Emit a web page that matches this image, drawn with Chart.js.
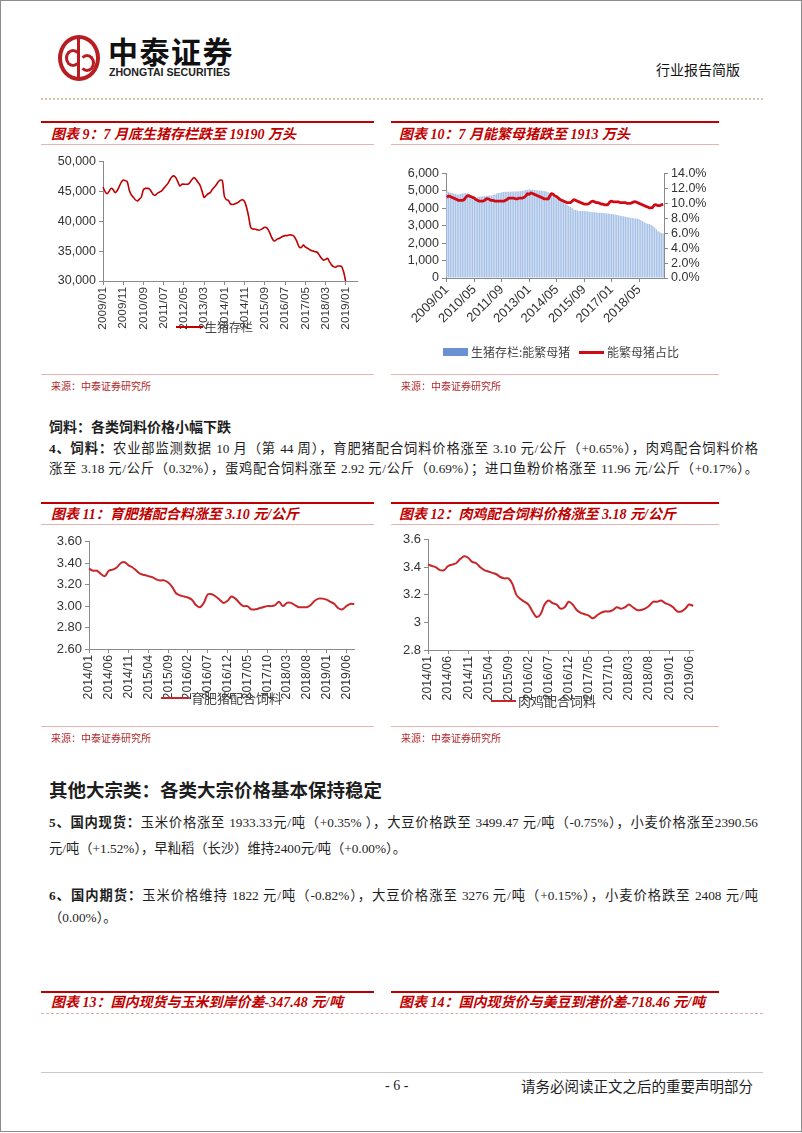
<!DOCTYPE html>
<html>
<head>
<meta charset="utf-8">
<script src="https://cdn.jsdelivr.net/npm/chart.js@4.4.0/dist/chart.umd.min.js"></script>
<style>
  body { margin: 0; background: #fff; }
  #page { position: relative; width: 800px; height: 1130px; border: 1px solid #8c8c8c; overflow: hidden;
          font-family: "Liberation Serif", "Noto Sans CJK SC", serif; color: #1e1e1e; }
  .abs { position: absolute; }
  .redbar { position: absolute; height: 2px; background: #c00000; }
  .thin { position: absolute; height: 1px; background: #e7b4b4; }
  .title { position: absolute; color: #c00000; font-weight: bold; font-style: italic; font-size: 14px; line-height: 16px; white-space: nowrap; }
  .src { position: absolute; color: #b0282c; font-size: 10px; line-height: 12px; font-family: "Noto Sans CJK SC", sans-serif; }
  .legend { position: absolute; font-family: "Noto Sans CJK SC", sans-serif; font-size: 12px; line-height: 14px; color: #444; white-space: nowrap; }
  .lline { position: absolute; height: 2px; background: #c8262b; }
  .body { position: absolute; left: 48px; width: 709px; font-size: 13.3px; line-height: 20px; white-space: nowrap; }
  .just { text-align: justify; text-align-last: justify; }
  canvas { position: absolute; }
</style>
</head>
<body>
<div id="page">

  <!-- header -->
  <div class="abs" style="left:57px;top:34px;width:34px;height:38px;border:4px solid #b81d22;border-radius:50%;"></div>
  <div class="abs" style="left:76px;top:38px;width:3px;height:38px;background:#b81d22;"></div>
  <div class="abs" style="left:64px;top:48px;width:10px;height:12px;border:3px solid #b81d22;border-radius:50%;border-right-color:transparent;"></div>
  <div class="abs" style="left:78px;top:53px;width:10px;height:12px;border:3px solid #b81d22;border-radius:50%;border-left-color:transparent;"></div>
  <div class="abs" style="left:107px;top:31px;font-family:'Noto Sans CJK SC',sans-serif;font-weight:bold;font-size:30px;line-height:36px;letter-spacing:1.5px;color:#111;">中泰证券</div>
  <div class="abs" style="left:108px;top:65px;font-family:'Liberation Sans',sans-serif;font-weight:bold;font-size:10.6px;line-height:12px;color:#222;">ZHONGTAI SECURITIES</div>
  <div class="abs" style="left:655px;top:59px;font-family:'Noto Sans CJK SC',sans-serif;font-size:14px;line-height:18px;color:#111;">行业报告简版</div>
  <div class="abs" style="left:40px;top:97px;width:722px;border-top:2px dotted #dcc6aa;"></div>

  <!-- chart 9 block -->
  <div class="redbar" style="left:40px;top:120px;width:333px;"></div>
  <div class="title" style="left:50px;top:126px;">图表 9：7 月底生猪存栏跌至 19190 万头</div>
  <div class="thin" style="left:40px;top:143px;width:333px;"></div>
  <canvas id="c9" width="325" height="190" style="left:48px;top:150px;"></canvas>
  <div class="lline" style="left:175px;top:325px;width:27px;background:#c00000;"></div>
  <div class="legend" style="left:204px;top:319px;">生猪存栏</div>
  <div class="thin" style="left:40px;top:373px;width:333px;"></div>
  <div class="src" style="left:50px;top:379px;">来源：中泰证券研究所</div>

  <!-- chart 10 block -->
  <div class="redbar" style="left:390px;top:120px;width:328px;"></div>
  <div class="title" style="left:398px;top:126px;">图表 10：7 月能繁母猪跌至 1913 万头</div>
  <div class="thin" style="left:390px;top:143px;width:328px;"></div>
  <canvas id="c10" width="320" height="165" style="left:398px;top:162px;"></canvas>
  <div class="abs" style="left:442px;top:347px;width:25px;height:8px;background:#6a92d2;"></div>
  <div class="legend" style="left:470px;top:344px;">生猪存栏:能繁母猪</div>
  <div class="lline" style="left:578px;top:350px;width:25px;height:3px;background:#d00a14;"></div>
  <div class="legend" style="left:606px;top:344px;">能繁母猪占比</div>
  <div class="thin" style="left:390px;top:373px;width:328px;"></div>
  <div class="src" style="left:400px;top:379px;">来源：中泰证券研究所</div>

  <!-- feed text -->
  <div class="abs" style="left:48px;top:415px;font-family:'Noto Sans CJK SC',sans-serif;font-weight:bold;font-size:14px;line-height:20px;">饲料：各类饲料价格小幅下跌</div>
  <div class="body just" style="top:438px;"><b>4、饲料：</b>农业部监测数据 10 月（第 44 周），育肥猪配合饲料价格涨至 3.10 元/公斤（+0.65%），肉鸡配合饲料价格</div>
  <div class="body just" style="top:458px;">涨至 3.18 元/公斤（0.32%），蛋鸡配合饲料涨至 2.92 元/公斤（0.69%）；进口鱼粉价格涨至 11.96 元/公斤（+0.17%）。</div>

  <!-- chart 11 block -->
  <div class="redbar" style="left:40px;top:501px;width:333px;"></div>
  <div class="title" style="left:50px;top:506px;">图表 11：育肥猪配合料涨至 3.10 元/公斤</div>
  <div class="thin" style="left:40px;top:523px;width:333px;"></div>
  <canvas id="c11" width="322" height="170" style="left:48px;top:530px;"></canvas>
  <div class="lline" style="left:160px;top:696px;width:28px;"></div>
  <div class="legend" style="left:190px;top:690px;font-size:13px;">育肥猪配合饲料</div>
  <div class="thin" style="left:40px;top:725px;width:333px;"></div>
  <div class="src" style="left:50px;top:731px;">来源：中泰证券研究所</div>

  <!-- chart 12 block -->
  <div class="redbar" style="left:390px;top:501px;width:328px;"></div>
  <div class="title" style="left:398px;top:506px;">图表 12：肉鸡配合饲料价格涨至 3.18 元/公斤</div>
  <div class="thin" style="left:390px;top:523px;width:328px;"></div>
  <canvas id="c12" width="311" height="173" style="left:398px;top:528px;"></canvas>
  <div class="lline" style="left:490px;top:699px;width:25px;"></div>
  <div class="legend" style="left:517px;top:693px;font-size:13px;">肉鸡配合饲料</div>
  <div class="thin" style="left:390px;top:725px;width:328px;"></div>
  <div class="src" style="left:400px;top:731px;">来源：中泰证券研究所</div>

  <!-- commodities text -->
  <div class="abs" style="left:48px;top:776px;font-family:'Noto Sans CJK SC',sans-serif;font-weight:bold;font-size:18.5px;line-height:24px;">其他大宗类：各类大宗价格基本保持稳定</div>
  <div class="body just" style="top:812px;"><b>5、国内现货：</b>玉米价格涨至 1933.33元/吨（+0.35% ），大豆价格跌至 3499.47 元/吨（-0.75%），小麦价格涨至2390.56</div>
  <div class="body" style="top:838px;">元/吨（+1.52%），早籼稻（长沙）维持2400元/吨（+0.00%）。</div>
  <div class="body just" style="top:885px;"><b>6、国内期货：</b>玉米价格维持 1822 元/吨（-0.82%），大豆价格涨至 3276 元/吨（+0.15%），小麦价格跌至 2408 元/吨</div>
  <div class="body" style="top:907px;">（0.00%）。</div>

  <!-- chart 13 / 14 headers -->
  <div class="redbar" style="left:40px;top:990px;width:333px;"></div>
  <div class="title" style="left:50px;top:994px;">图表 13：国内现货与玉米到岸价差-347.48 元/吨</div>
  <div class="redbar" style="left:390px;top:990px;width:328px;"></div>
  <div class="title" style="left:398px;top:994px;">图表 14：国内现货价与美豆到港价差-718.46 元/吨</div>
  <div class="abs" style="left:40px;top:1012px;width:722px;border-top:1px dashed #d9b0b0;"></div>

  <!-- footer -->
  <div class="abs" style="left:40px;top:1071px;width:722px;height:1px;background:#c9c9c9;"></div>
  <div class="abs" style="left:384px;top:1076px;font-size:14px;line-height:18px;">- 6 -</div>
  <div class="abs" style="left:520px;top:1076px;font-family:'Noto Sans CJK SC',sans-serif;font-size:14.5px;line-height:18px;">请务必阅读正文之后的重要声明部分</div>
</div>

<script>
  // categories
  const pigLabels = [];
  for (let y = 2009; y <= 2019; y++) {
    for (let m = 1; m <= 12; m++) {
      if (y === 2019 && m > 7) break;
      pigLabels.push(y + "/" + String(m).padStart(2, "0"));
    }
  }
  const feedLabels = [];
  for (let y = 2014; y <= 2019; y++) {
    for (let m = 1; m <= 12; m++) {
      if (y === 2019 && m > 8) break;
      feedLabels.push(y + "/" + String(m).padStart(2, "0"));
    }
  }

  // 图表9 生猪存栏 (万头), monthly 2009/01 - 2019/07
  const hogStock = [
    45700, 45000, 44600, 45000, 45500, 45300, 44800, 45100, 45800, 46500,
    46900, 46800, 46600, 45200, 44400, 44000, 43600, 43400, 43700, 44100,
    45300, 45500, 45500, 45400, 44900, 44400, 44400, 44700, 44900, 45100,
    45500, 45900, 46300, 46900, 47400, 47600, 47300, 46600, 45900, 46200,
    46200, 46200, 46200, 46500, 47000, 47300, 47000, 46500, 46000, 45000,
    44000, 44300, 44600, 44800, 45300, 45700, 46100, 46600, 46900, 46800,
    44200, 43600, 43500, 42900, 42800, 42900, 43000, 43200, 43500, 43600,
    43300, 42300, 40800, 39000, 38700, 38700, 38600, 38500, 38600, 38800,
    39000, 38900, 38400, 37600, 36900, 36700, 37000, 37100, 37300, 37500,
    37600, 37600, 37700, 37700, 37600, 37200, 36500, 35700, 35600, 36000,
    35700, 35500, 35300, 35100, 35000, 34900, 34800, 34300, 33800, 33500,
    33600, 33800, 33200, 32700, 32400, 32300, 32500, 32500, 32400, 31500,
    29900, null, null, null, null, null, null
  ];

  // 图表10 能繁母猪 (万头) and share (%)
  const sowStock = [
    4980, 4950, 4900, 4880, 4850, 4820, 4800, 4800, 4820, 4850, 4870, 4880,
    4860, 4820, 4700, 4650, 4630, 4640, 4650, 4660, 4680, 4700, 4700, 4710,
    4720, 4730, 4740, 4760, 4800, 4850, 4880, 4900, 4920, 4940, 4950, 4950,
    4950, 4950, 4960, 4960, 4970, 4970, 4980, 4980, 5000, 5020, 5050, 5070,
    5080, 5070, 5060, 5050, 5040, 5030, 5020, 5010, 5000, 4980, 4960, 4930,
    4870, 4780, 4700, 4640, 4560, 4500, 4440, 4380, 4320, 4260, 4200, 4140,
    4080, 4000, 3940, 3900, 3870, 3850, 3850, 3850, 3840, 3830, 3820, 3800,
    3790, 3780, 3770, 3760, 3750, 3750, 3740, 3730, 3720, 3710, 3700, 3690,
    3680, 3660, 3640, 3620, 3600, 3580, 3560, 3540, 3520, 3500, 3480, 3460,
    3440, 3420, 3410, 3400, 3380, 3320, 3260, 3200, 3150, 3120, 3100, 3050,
    2980, 2900, 2800, 2700, 2620, 2580, 2560
  ];
  const sowShare = [
    10.8, 11.0, 10.9, 10.8, 10.7, 10.6, 10.5, 10.4, 10.4, 10.4, 10.5, 10.8,
    11.0, 11.0, 10.9, 10.8, 10.7, 10.5, 10.4, 10.3, 10.3, 10.3, 10.4, 10.6,
    10.6, 10.5, 10.4, 10.4, 10.3, 10.3, 10.3, 10.3, 10.3, 10.3, 10.4, 10.5,
    10.7, 10.7, 10.7, 10.7, 10.6, 10.6, 10.7, 10.7, 10.7, 10.8, 11.0, 11.3,
    11.2, 11.4, 11.3, 11.2, 11.1, 11.0, 10.9, 10.8, 10.7, 10.6, 10.6, 10.6,
    11.0, 11.3, 11.2, 11.0, 10.9, 10.7, 10.5, 10.4, 10.3, 10.2, 10.1, 10.1,
    10.1, 10.3, 10.5, 10.4, 10.3, 10.2, 10.1, 10.0, 9.9, 9.9, 9.9, 10.0,
    10.2, 10.3, 10.2, 10.1, 10.1, 10.0, 9.9, 9.9, 9.8, 9.8, 9.9, 10.2,
    10.3, 10.2, 10.2, 10.2, 10.2, 10.1, 10.1, 10.1, 10.1, 10.0, 10.0, 10.0,
    10.1, 10.2, 10.2, 10.1, 10.0, 9.9, 9.8, 9.7, 9.6, 9.5, 9.4, 9.4,
    9.5, 9.8, 9.8, 9.7, 9.7, 9.8, 9.9
  ];

  // 图表11 育肥猪配合饲料 (元/公斤), 2014/01 - 2019/08
  const hogFeed = [
    3.35, 3.33, 3.33, 3.30, 3.28, 3.33, 3.34, 3.36, 3.40, 3.41,
    3.38, 3.36, 3.33, 3.30, 3.29, 3.28, 3.27, 3.25, 3.24, 3.24,
    3.22, 3.18, 3.12, 3.10, 3.09, 3.08, 3.06, 3.01, 2.99, 3.03,
    3.11, 3.11, 3.09, 3.06, 3.03, 3.05, 3.09, 3.07, 3.03, 3.00,
    3.00, 2.97, 2.97, 2.98, 2.99, 3.00, 3.00, 3.01, 3.04, 3.00,
    3.03, 3.03, 3.01, 2.99, 2.99, 2.99, 3.01, 3.05, 3.07, 3.07,
    3.06, 3.04, 3.02, 2.98, 2.97, 3.00, 3.02, 3.02
  ];

  // 图表12 肉鸡配合饲料 (元/公斤), 2014/01 - 2019/07
  const broilerFeed = [
    3.42, 3.41, 3.40, 3.38, 3.38, 3.41, 3.42, 3.43, 3.46, 3.48,
    3.47, 3.44, 3.43, 3.40, 3.38, 3.37, 3.36, 3.35, 3.33, 3.32,
    3.32, 3.28, 3.20, 3.17, 3.15, 3.13, 3.08, 3.04, 3.06, 3.13,
    3.16, 3.14, 3.13, 3.10, 3.11, 3.15, 3.13, 3.09, 3.07, 3.06,
    3.05, 3.03, 3.05, 3.07, 3.08, 3.08, 3.09, 3.11, 3.10, 3.11,
    3.13, 3.11, 3.09, 3.09, 3.10, 3.12, 3.15, 3.15, 3.16, 3.14,
    3.13, 3.11, 3.08, 3.08, 3.10, 3.13, 3.12
  ];

  Chart.defaults.font.family = '"Liberation Sans", Arial, sans-serif';
  Chart.defaults.color = "#333";
  Chart.defaults.animation = false;

  const axisGray = "#8a8a8a";
  const noPlugins = { legend: { display: false }, tooltip: { enabled: false } };

  // 图表9
  new Chart(document.getElementById("c9"), {
    type: "line",
    data: {
      labels: pigLabels,
      datasets: [{ data: hogStock, borderColor: "#c00000", borderWidth: 1.6, pointRadius: 0, tension: 0.3 }],
    },
    options: {
      responsive: false,
      layout: { padding: { top: 9, right: 8 } },
      plugins: noPlugins,
      scales: {
        x: {
          ticks: { autoSkip: false, minRotation: 90, maxRotation: 90, padding: 2, font: { size: 11.8 },
                   callback: (v, i) => (i % 10 === 0 ? pigLabels[i] : "") },
          grid: { drawOnChartArea: false, tickLength: 4, color: (c) => (c.index % 10 === 0 ? axisGray : "rgba(0,0,0,0)") },
          border: { color: axisGray },
          afterFit: (s) => { s.height = 60; },
        },
        y: {
          min: 30000, max: 50000,
          ticks: { stepSize: 5000, autoSkip: false, font: { size: 12.5 } },
          grid: { drawOnChartArea: false, tickLength: 4, color: axisGray },
          border: { color: axisGray },
          afterFit: (s) => { s.width = 54; },
        },
      },
    },
  });

  // 图表10
  new Chart(document.getElementById("c10"), {
    type: "bar",
    data: {
      labels: pigLabels,
      datasets: [
        { type: "line", data: sowShare, yAxisID: "y1", borderColor: "#d00a14", borderWidth: 2.8, pointRadius: 0, tension: 0.3, order: 0 },
        { data: sowStock, yAxisID: "y", backgroundColor: "#a8c2e7", barPercentage: 0.8, categoryPercentage: 1.0, order: 1 },
      ],
    },
    options: {
      responsive: false,
      layout: { padding: { top: 8 } },
      plugins: noPlugins,
      scales: {
        x: {
          ticks: { autoSkip: false, minRotation: 45, maxRotation: 45, padding: 0, font: { size: 13 },
                   callback: (v, i) => (i % 16 === 0 ? pigLabels[i] : "") },
          grid: { drawOnChartArea: false, offset: false, tickLength: 4, color: (c) => (c.index % 16 === 0 ? axisGray : "rgba(0,0,0,0)") },
          border: { color: axisGray },
          afterFit: (s) => { s.height = 50; },
        },
        y: {
          min: 0, max: 6000,
          ticks: { stepSize: 1000, autoSkip: false, font: { size: 12.5 } },
          grid: { drawOnChartArea: false, tickLength: 4, color: axisGray },
          border: { color: axisGray },
          afterFit: (s) => { s.width = 47; },
        },
        y1: {
          position: "right",
          min: 0, max: 14,
          ticks: { stepSize: 2, autoSkip: false, font: { size: 12.5 }, callback: (v) => v.toFixed(1) + "%" },
          grid: { drawOnChartArea: false, tickLength: 4, color: axisGray },
          border: { color: axisGray },
          afterFit: (s) => { s.width = 55; },
        },
      },
    },
  });

  // 图表11
  new Chart(document.getElementById("c11"), {
    type: "line",
    data: {
      labels: feedLabels,
      datasets: [{ data: hogFeed, borderColor: "#c8262b", borderWidth: 2, pointRadius: 0, tension: 0.35 }],
    },
    options: {
      responsive: false,
      layout: { padding: { top: 7, right: 10 } },
      plugins: noPlugins,
      scales: {
        x: {
          ticks: { autoSkip: false, minRotation: 90, maxRotation: 90, padding: 2, font: { size: 12.3 },
                   callback: (v, i) => (i % 5 === 0 ? feedLabels[i] : "") },
          grid: { drawOnChartArea: false, tickLength: 4, color: (c) => (c.index % 5 === 0 ? axisGray : "rgba(0,0,0,0)") },
          border: { color: axisGray },
          afterFit: (s) => { s.height = 52; },
        },
        y: {
          min: 2.6, max: 3.6,
          ticks: { stepSize: 0.2, autoSkip: false, font: { size: 13 }, callback: (v) => v.toFixed(2) },
          grid: { drawOnChartArea: false, tickLength: 4, color: axisGray },
          border: { color: axisGray },
          afterFit: (s) => { s.width = 40; },
        },
      },
    },
  });

  // 图表12
  const broilerLabels = feedLabels.slice(0, broilerFeed.length);
  new Chart(document.getElementById("c12"), {
    type: "line",
    data: {
      labels: broilerLabels,
      datasets: [{ data: broilerFeed, borderColor: "#c8262b", borderWidth: 2, pointRadius: 0, tension: 0.35 }],
    },
    options: {
      responsive: false,
      layout: { padding: { top: 8, right: 12 } },
      plugins: noPlugins,
      scales: {
        x: {
          ticks: { autoSkip: false, minRotation: 90, maxRotation: 90, padding: 2, font: { size: 12.3 },
                   callback: (v, i) => (i % 5 === 0 ? broilerLabels[i] : "") },
          grid: { drawOnChartArea: false, tickLength: 4, color: (c) => (c.index % 5 === 0 ? axisGray : "rgba(0,0,0,0)") },
          border: { color: axisGray },
          afterFit: (s) => { s.height = 52; },
        },
        y: {
          min: 2.8, max: 3.6,
          ticks: { stepSize: 0.2, autoSkip: false, font: { size: 13 }, callback: (v) => String(+v.toFixed(1)) },
          grid: { drawOnChartArea: false, tickLength: 4, color: axisGray },
          border: { color: axisGray },
          afterFit: (s) => { s.width = 29; },
        },
      },
    },
  });
</script>
</body>
</html>
